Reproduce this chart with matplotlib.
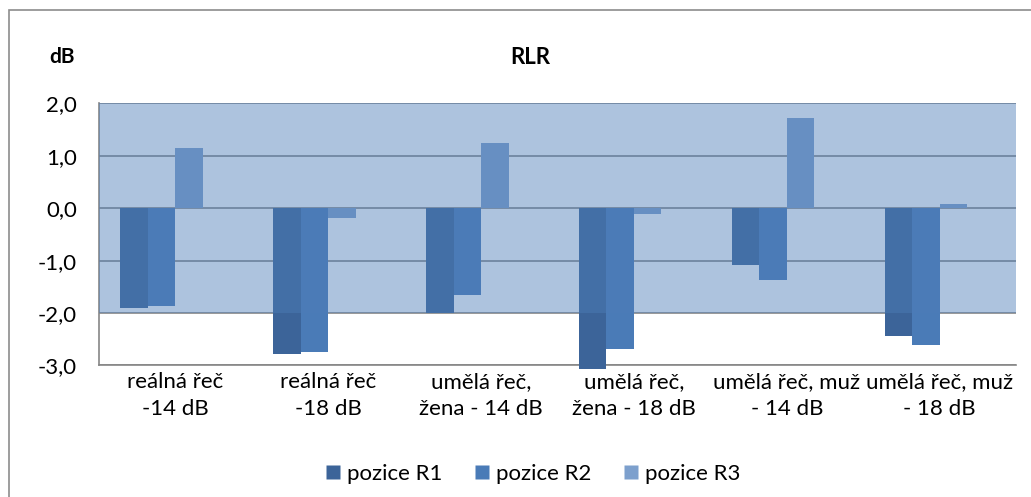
"""RLR bar chart: three measurement positions per speech condition."""

import matplotlib

matplotlib.use("Agg")

import matplotlib.pyplot as plt
import numpy as np
from matplotlib.lines import Line2D
from matplotlib.patches import Rectangle

CATEGORIES = [
    "reálná řeč\n-14 dB",
    "reálná řeč\n-18 dB",
    "umělá řeč,\nžena - 14 dB",
    "umělá řeč,\nžena - 18 dB",
    "umělá řeč, muž\n- 14 dB",
    "umělá řeč, muž\n- 18 dB",
]
SERIES = ["pozice R1", "pozice R2", "pozice R3"]
R1 = [-1.90, -2.78, -2.00, -3.06, -1.08, -2.43]
R2 = [-1.87, -2.75, -1.66, -2.68, -1.36, -2.61]
R3 = [1.15, -0.19, 1.25, -0.11, 1.73, 0.08]
Y_TICKS = [-3, -2, -1, 0, 1, 2]

COLORS = ["#3C6499", "#4A7BB7", "#7DA0CD"]
BAND_COLOR = "#4D7DB7"
GRID_COLOR = "#868686"


def fmt_cz(v: float) -> str:
    """Czech decimal comma, one decimal place."""
    return f"{v:.1f}".replace(".", ",")


def plot_rlr() -> None:
    plt.rcParams["font.family"] = ["Lato", "DejaVu Sans"]

    fig = plt.figure(figsize=(10.31, 4.97), dpi=100)
    ax = fig.add_axes([0.096, 0.2646, 0.8895, 0.5272])

    # outer chart frame
    fig.patches.append(
        Rectangle((9 / 1031, -0.05), 1.1, 1 - 10 / 497 + 0.05,
                  transform=fig.transFigure, fill=False,
                  edgecolor="#8C8C8C", linewidth=1.2)
    )

    x = np.arange(len(CATEGORIES))
    width = 0.18
    # four slots per group, fourth one empty (as in the source workbook)
    for i, (vals, color) in enumerate(zip([R1, R2, R3], COLORS)):
        offset = (i - 1.5) * width
        ax.bar(x + offset, vals, width=width, color=color, zorder=2,
               clip_on=False, linewidth=0)

    # translucent band over the -2..2 region
    ax.axhspan(-2, 2, color=BAND_COLOR, alpha=0.46, zorder=3, linewidth=0)

    ax.set_xlim(-0.5, len(CATEGORIES) - 0.5)
    ax.set_ylim(-3, 2)
    ax.set_yticks(Y_TICKS)
    ax.set_yticklabels([fmt_cz(v) for v in Y_TICKS], fontsize=16)
    ax.set_xticks(x)
    ax.set_xticklabels(CATEGORIES, fontsize=16, linespacing=1.4)
    ax.tick_params(axis="y", length=0, pad=16)
    ax.tick_params(axis="x", length=0, pad=5)

    ax.set_axisbelow(True)
    ax.grid(axis="y", color=GRID_COLOR, linewidth=1.2)
    for side in ["top", "right"]:
        ax.spines[side].set_visible(False)
    for side in ["left", "bottom"]:
        ax.spines[side].set_color(GRID_COLOR)
        ax.spines[side].set_linewidth(1.2)
        ax.spines[side].set_zorder(1)

    fig.text(0.514, 1 - 58 / 497, "RLR", ha="center", va="center",
             fontsize=16, fontweight="bold")
    fig.text(62 / 1031, 1 - 57 / 497, "dB", ha="center", va="center",
             fontsize=15, fontweight="bold")

    handles = [Line2D([], [], marker="s", linestyle="none", markersize=10,
                      markerfacecolor=c, markeredgecolor="none", label=s)
               for c, s in zip(COLORS, SERIES)]
    fig.legend(handles=handles, loc="center", ncol=3,
               bbox_to_anchor=(0.517, 1 - 474 / 497), frameon=False,
               fontsize=16, handlelength=0.65, handletextpad=0.3,
               columnspacing=1.45)

    fig.savefig("out.png", dpi=100)
    plt.close(fig)


def main() -> None:
    plot_rlr()


if __name__ == "__main__":
    main()
